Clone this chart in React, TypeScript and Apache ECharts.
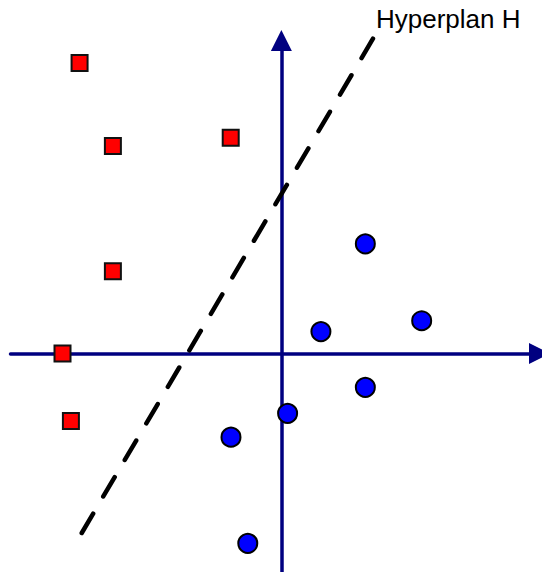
import React, { useEffect, useRef } from "react";
import * as echarts from "echarts";

// Data (abstract units, origin at the axes' crossing)
const RED_X = [-7.45, -6.22, -1.87, -6.22, -8.08, -7.77];
const RED_Y = [10.73, 7.66, 7.97, 3.04, 0, -2.49];
const BLUE_X = [3.1, 1.46, 5.18, 3.1, 0.23, -1.86, -1.24];
const BLUE_Y = [4.05, 0.81, 1.21, -1.25, -2.21, -3.09, -7.01];
const HYPERPLANE_X = [-7.37, 3.39];
const HYPERPLANE_Y = [-6.63, 11.64];
const HYPERPLANE_LABEL = "Hyperplan H";

const X_MIN = -10;
const X_MAX = 9.53;
const Y_MIN = -8.07;
const Y_MAX = 11.56;

const AXIS_COLOR = "#000080";

export default function App() {
  const ref = useRef<HTMLDivElement>(null);

  useEffect(() => {
    if (!ref.current) return;
    const chart = echarts.init(ref.current, null, { renderer: "svg" });

    const axisCommon = {
      type: "value" as const,
      axisLine: {
        show: true,
        onZero: true,
        symbol: ["none", "triangle"],
        symbolSize: [21, 21],
        lineStyle: { color: AXIS_COLOR, width: 3.5 },
      },
      axisTick: { show: false },
      axisLabel: { show: false },
      splitLine: { show: false },
    };

    chart.setOption({
      animation: false,
      backgroundColor: "#ffffff",
      grid: { left: 10.5, top: 40.5, width: 529, height: 531.5, containLabel: false },
      xAxis: { ...axisCommon, min: X_MIN, max: X_MAX },
      yAxis: { ...axisCommon, min: Y_MIN, max: Y_MAX },
      series: [
        {
          type: "line",
          silent: true,
          clip: false,
          showSymbol: false,
          symbol: "none",
          data: HYPERPLANE_X.map((x, i) => [x, HYPERPLANE_Y[i]]),
          lineStyle: { color: "#000000", width: 4.5, type: [22.5, 19.9], cap: "round" },
          z: 3,
        },
        {
          type: "scatter",
          silent: true,
          symbol: "rect",
          symbolSize: 16,
          data: RED_X.map((x, i) => [x, RED_Y[i]]),
          itemStyle: { color: "#ff0000", borderColor: "#111111", borderWidth: 2, opacity: 1 },
          z: 4,
        },
        {
          type: "scatter",
          silent: true,
          symbol: "circle",
          symbolSize: 19,
          data: BLUE_X.map((x, i) => [x, BLUE_Y[i]]),
          itemStyle: { color: "#0000ff", borderColor: "#000000", borderWidth: 2, opacity: 1 },
          z: 4,
        },
      ],
      graphic: [
        {
          type: "text",
          x: 376,
          y: 19.3,
          silent: true,
          style: {
            text: HYPERPLANE_LABEL,
            fontSize: 26,
            fontFamily: "'Liberation Sans', Arial, sans-serif",
            fill: "#000000",
            align: "left",
            verticalAlign: "middle",
          },
        },
      ],
    });

    return () => {
      chart.dispose();
    };
  }, []);

  return (
    <div
      ref={ref}
      style={{ position: "absolute", left: 0, top: 0, width: 542, height: 572, background: "#fff" }}
    />
  );
}
